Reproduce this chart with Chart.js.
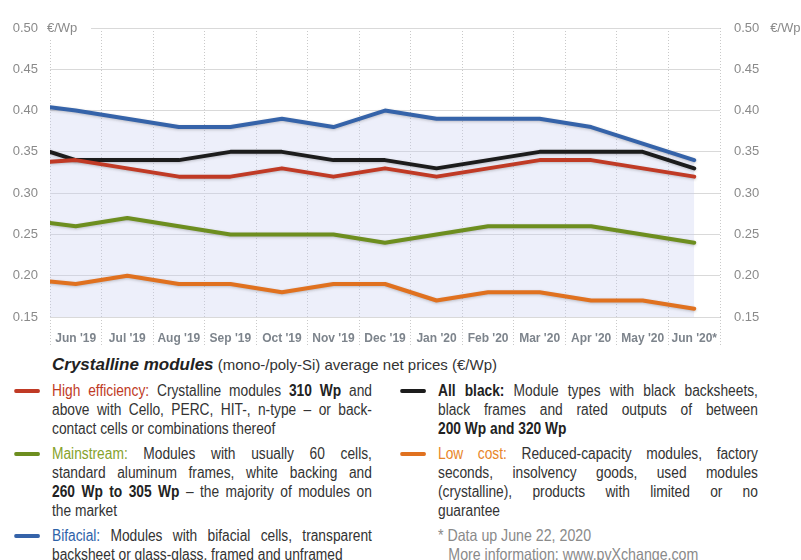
<!DOCTYPE html>
<html>
<head>
<meta charset="utf-8">
<script src="https://cdn.jsdelivr.net/npm/chart.js@4"></script>
<style>
  html, body { margin: 0; padding: 0; background: #fff; }
  body { width: 801px; height: 560px; position: relative; overflow: hidden;
         font-family: "Liberation Sans", Arial, sans-serif; color: #333; }
  #chartBox { position: absolute; left: 0; top: 0; width: 801px; height: 352px; }
  .title { position: absolute; left: 52px; top: 355px; font-size: 15px; white-space: nowrap; }
  .title b { font-style: italic; font-size: 17px; color: #222; }
  /* the legend copy is set in a condensed cut: squeeze the columns horizontally */
  .col { position: absolute; top: 381px; width: 372px; transform: scaleX(0.86); transform-origin: 0 0; }
  .col.left { left: 52px; }
  .col.right { left: 438px; }
  .item { position: relative; font-size: 16px; line-height: 19px; margin-bottom: 6px; }
  .item .ln { display: block; text-align: justify; text-align-last: justify; }
  .item .ln.end { text-align-last: left; }
  .item .swatch { position: absolute; left: -44px; top: 8px; width: 30px; height: 4px; border-radius: 2px; }
  .item b { color: #222; }
  .note { font-size: 16.5px; line-height: 19px; color: #8a8a8a; padding-left: 12px; text-indent: -12px; }
</style>
</head>
<body>
<div id="chartBox"><canvas id="priceChart"></canvas></div>

<div class="title"><b>Crystalline modules</b> (mono-/poly-Si) average net prices (€/Wp)</div>

<div class="col left">
  <div class="item"><span class="swatch" style="background:#c03a25"></span>
    <span class="ln"><span style="color:#c03a25">High efficiency:</span> Crystalline modules <b>310 Wp</b> and</span>
    <span class="ln">above with Cello, PERC, HIT-, n-type – or back-</span>
    <span class="ln end">contact cells or combinations thereof</span></div>
  <div class="item"><span class="swatch" style="background:#6d8e1f"></span>
    <span class="ln"><span style="color:#86a22c">Mainstream:</span> Modules with usually 60 cells,</span>
    <span class="ln">standard aluminum frames, white backing and</span>
    <span class="ln"><b>260 Wp to 305 Wp</b> – the majority of modules on</span>
    <span class="ln end">the market</span></div>
  <div class="item"><span class="swatch" style="background:#3563a9"></span>
    <span class="ln"><span style="color:#2e62a8">Bifacial:</span> Modules with bifacial cells, transparent</span>
    <span class="ln end">backsheet or glass-glass, framed and unframed</span></div>
</div>

<div class="col right">
  <div class="item"><span class="swatch" style="background:#1c1c1c"></span>
    <span class="ln"><b>All black:</b> Module types with black backsheets,</span>
    <span class="ln">black frames and rated outputs of between</span>
    <span class="ln end"><b>200 Wp and 320 Wp</b></span></div>
  <div class="item"><span class="swatch" style="background:#e0711f"></span>
    <span class="ln"><span style="color:#e8862a">Low cost:</span> Reduced-capacity modules, factory</span>
    <span class="ln">seconds, insolvency goods, used modules</span>
    <span class="ln">(crystalline), products with limited or no</span>
    <span class="ln end">guarantee</span></div>
  <div class="note">* Data up June 22, 2020<br>More information: www.pvXchange.com</div>
</div>

<script>
'use strict';

// month labels along the bottom (one per month column)
const monthLabels = ["Jun '19", "Jul '19", "Aug '19", "Sep '19", "Oct '19", "Nov '19", "Dec '19",
                     "Jan '20", "Feb '20", "Mar '20", "Apr '20", "May '20", "Jun '20*"];

// €/Wp prices: first value opens the series at the start of June 2019,
// the rest are the monthly readings Jun '19 .. Jun '20
const highEfficiency = [0.338, 0.34, 0.33, 0.32, 0.32, 0.33, 0.32, 0.33, 0.32, 0.33, 0.34, 0.34, 0.33, 0.32];
const allBlack       = [0.35, 0.34, 0.34, 0.34, 0.35, 0.35, 0.34, 0.34, 0.33, 0.34, 0.35, 0.35, 0.35, 0.33];
const mainstream     = [0.264, 0.26, 0.27, 0.26, 0.25, 0.25, 0.25, 0.24, 0.25, 0.26, 0.26, 0.26, 0.25, 0.24];
const bifacial       = [0.404, 0.40, 0.39, 0.38, 0.38, 0.39, 0.38, 0.40, 0.39, 0.39, 0.39, 0.38, 0.36, 0.34];
const lowCost        = [0.193, 0.19, 0.20, 0.19, 0.19, 0.18, 0.19, 0.19, 0.17, 0.18, 0.18, 0.17, 0.17, 0.16];

const yTicks = [0.15, 0.20, 0.25, 0.30, 0.35, 0.40, 0.45, 0.50];

// month columns run 0..13 on a linear axis; readings sit in the middle of each column
function toPoints(values) {
    return values.map((v, i) => ({ x: i === 0 ? 0 : i - 0.5, y: v }));
}

function lineSet(label, values, color, extra) {
    return Object.assign({
        label: label,
        data: toPoints(values),
        borderColor: color,
        borderWidth: 4,
        pointRadius: 0,
        tension: 0,
        fill: false,
        borderJoinStyle: 'round',
        borderCapStyle: 'round'
    }, extra || {});
}

const isHalf = v => Math.round(v * 2) % 2 === 1;

// soft shadow under each line, and the "€/Wp" unit next to the top left tick
const decorPlugin = {
    id: 'decor',
    beforeDatasetDraw(chart) {
        const ctx = chart.ctx;
        ctx.save();
        ctx.shadowColor = 'rgba(0,0,0,0.22)';
        ctx.shadowBlur = 3;
        ctx.shadowOffsetY = 1;
    },
    afterDatasetDraw(chart) {
        chart.ctx.restore();
    },
    afterDraw(chart) {
        const ctx = chart.ctx;
        const y = chart.scales.y.getPixelForValue(0.5);
        ctx.save();
        ctx.fillStyle = '#fff';
        ctx.fillRect(43, y - 10, 48, 20);
        ctx.fillStyle = '#8a8a8a';
        ctx.font = '13px "Liberation Sans", sans-serif';
        ctx.textAlign = 'left';
        ctx.textBaseline = 'middle';
        ctx.fillText('€/Wp', 47, y);
        ctx.restore();
    }
};

const tickFont = { family: '"Liberation Sans", sans-serif', size: 13 };

new Chart(document.getElementById('priceChart'), {
    type: 'line',
    data: {
        datasets: [
            lineSet('High efficiency', highEfficiency, '#c03a25'),
            lineSet('All black', allBlack, '#1c1c1c'),
            lineSet('Mainstream', mainstream, '#6d8e1f'),
            lineSet('Low cost', lowCost, '#e0711f'),
            lineSet('Bifacial', bifacial, '#3563a9', {
                fill: 'start',
                backgroundColor: 'rgba(200,206,238,0.32)',
                order: 5
            })
        ]
    },
    options: {
        responsive: true,
        maintainAspectRatio: false,
        animation: false,
        layout: { padding: { top: 28, left: 0, right: 0, bottom: 0 } },
        plugins: {
            legend: { display: false },
            tooltip: { enabled: false }
        },
        scales: {
            x: {
                type: 'linear',
                min: 0,
                max: 13,
                afterBuildTicks(scale) {
                    const ticks = [];
                    for (let v = 0; v <= 26; v++) ticks.push({ value: v / 2 });
                    scale.ticks = ticks;
                },
                afterFit(scale) { scale.height = 35; },
                ticks: {
                    autoSkip: false,
                    maxRotation: 0,
                    padding: -16,
                    color: '#7d848c',
                    font: { family: '"Liberation Sans", sans-serif', size: 12, weight: 'bold' },
                    callback: v => isHalf(v) ? monthLabels[Math.floor(v)] : ''
                },
                grid: {
                    color: c => (c.index % 2 === 0 ? '#c9c9c9' : 'rgba(0,0,0,0)'),
                    tickColor: c => (c.index % 2 === 0 ? '#c9c9c9' : 'rgba(0,0,0,0)'),
                    tickLength: 30,
                    tickBorderDash: [1, 2],
                    lineWidth: 1
                },
                border: { display: false, dash: [1, 2] }
            },
            y: {
                position: 'left',
                min: 0.15,
                max: 0.50,
                afterBuildTicks(scale) { scale.ticks = yTicks.map(v => ({ value: v })); },
                afterFit(scale) { scale.width = 50; },
                ticks: {
                    padding: 12,
                    color: '#8a8a8a',
                    font: tickFont,
                    callback: v => v.toFixed(2)
                },
                grid: { color: '#d9d9d9', drawTicks: false, lineWidth: 1 },
                border: { display: false }
            },
            y2: {
                position: 'right',
                min: 0.15,
                max: 0.50,
                afterBuildTicks(scale) { scale.ticks = yTicks.map(v => ({ value: v })); },
                afterFit(scale) { scale.width = 81; },
                ticks: {
                    padding: 14,
                    color: '#8a8a8a',
                    font: tickFont,
                    callback: v => Math.abs(v - 0.5) < 1e-9 ? '0.50   €/Wp' : v.toFixed(2)
                },
                grid: { drawOnChartArea: false, drawTicks: false },
                border: { display: false }
            }
        }
    },
    plugins: [decorPlugin]
});
</script>
</body>
</html>
